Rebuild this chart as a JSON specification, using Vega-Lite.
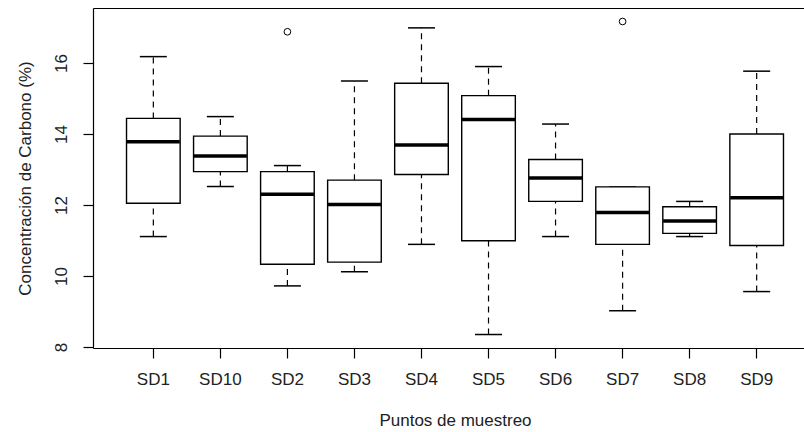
{
  "$schema": "https://vega.github.io/schema/vega-lite/v6.json",
  "width": 711,
  "height": 340,
  "autosize": {"type": "none"},
  "padding": {"left": 93, "top": 8, "right": 0, "bottom": 84},
  "background": "white",
  "config": {
    "view": {"stroke": null},
    "font": "Liberation Sans",
    "axis": {
      "domainColor": "#000",
      "tickColor": "#000",
      "labelColor": "#222",
      "titleColor": "#222",
      "labelFont": "Liberation Sans",
      "titleFont": "Liberation Sans",
      "labelFontSize": 17,
      "titleFontSize": 17,
      "titleFontWeight": "normal",
      "grid": false,
      "tickSize": 10,
      "domainWidth": 1.2,
      "tickWidth": 1.2
    }
  },
  "datasets": {
    "boxes": [
      {"site": "SD1", "lower": 11.11, "q1": 12.05, "median": 13.78, "q3": 14.44, "upper": 16.18},
      {"site": "SD10", "lower": 12.52, "q1": 12.94, "median": 13.38, "q3": 13.94, "upper": 14.49},
      {"site": "SD2", "lower": 9.72, "q1": 10.33, "median": 12.3, "q3": 12.94, "upper": 13.11},
      {"site": "SD3", "lower": 10.12, "q1": 10.39, "median": 12.01, "q3": 12.7, "upper": 15.49},
      {"site": "SD4", "lower": 10.89, "q1": 12.86, "median": 13.69, "q3": 15.43, "upper": 16.99},
      {"site": "SD5", "lower": 8.35, "q1": 10.99, "median": 14.41, "q3": 15.08, "upper": 15.9},
      {"site": "SD6", "lower": 11.11, "q1": 12.1, "median": 12.76, "q3": 13.28, "upper": 14.28},
      {"site": "SD7", "lower": 9.02, "q1": 10.89, "median": 11.79, "q3": 12.51, "upper": 12.51},
      {"site": "SD8", "lower": 11.11, "q1": 11.2, "median": 11.55, "q3": 11.95, "upper": 12.1},
      {"site": "SD9", "lower": 9.56, "q1": 10.86, "median": 12.2, "q3": 14.0, "upper": 15.77}
    ],
    "outliers": [
      {"site": "SD2", "value": 16.88},
      {"site": "SD7", "value": 17.17}
    ]
  },
  "resolve": {"axis": {"x": "independent"}},
  "layer": [
    {
      "data": {"name": "boxes"},
      "mark": {"type": "rule", "color": "#000", "strokeWidth": 1.2, "strokeDash": [6, 5]},
      "encoding": {
        "x": {"field": "site", "type": "nominal", "sort": null,
              "scale": {"type": "band", "domain": ["SD1","SD10","SD2","SD3","SD4","SD5","SD6","SD7","SD8","SD9"], "paddingInner": 0.2, "paddingOuter": 0.5, "range": [0, 724]},
              "axis": {"orient": "bottom", "labelAngle": 0, "labelPadding": 13, "title": "Puntos de muestreo", "titlePadding": 25, "domain": true}},
        "y": {"field": "lower", "type": "quantitative",
              "scale": {"domain": [7.97, 17.55], "nice": false, "zero": false},
              "axis": {"values": [8, 10, 12, 14, 16], "labelAngle": -90, "labelAlign": "center", "labelBaseline": "bottom", "labelPadding": 13, "title": "Concentración de Carbono (%)", "titlePadding": 18}},
        "y2": {"field": "q1"}
      }
    },
    {
      "data": {"name": "boxes"},
      "mark": {"type": "rule", "color": "#000", "strokeWidth": 1.2, "strokeDash": [6, 5]},
      "encoding": {
        "x": {"field": "site", "type": "nominal", "sort": null, "axis": null},
        "y": {"field": "q3", "type": "quantitative"},
        "y2": {"field": "upper"}
      }
    },
    {
      "data": {"name": "boxes"},
      "mark": {"type": "tick", "color": "#000", "size": 27, "thickness": 1.5, "opacity": 1},
      "encoding": {
        "x": {"field": "site", "type": "nominal", "sort": null, "axis": null},
        "y": {"field": "lower", "type": "quantitative"}
      }
    },
    {
      "data": {"name": "boxes"},
      "mark": {"type": "tick", "color": "#000", "size": 27, "thickness": 1.5, "opacity": 1},
      "encoding": {
        "x": {"field": "site", "type": "nominal", "sort": null, "axis": null},
        "y": {"field": "upper", "type": "quantitative"}
      }
    },
    {
      "data": {"name": "boxes"},
      "mark": {"type": "bar", "fill": "white", "stroke": "#000", "strokeWidth": 1.4},
      "encoding": {
        "x": {"field": "site", "type": "nominal", "sort": null, "axis": null},
        "y": {"field": "q1", "type": "quantitative"},
        "y2": {"field": "q3"}
      }
    },
    {
      "data": {"name": "boxes"},
      "mark": {"type": "tick", "color": "#000", "size": 53, "thickness": 3.5, "opacity": 1},
      "encoding": {
        "x": {"field": "site", "type": "nominal", "sort": null, "axis": null},
        "y": {"field": "median", "type": "quantitative"}
      }
    },
    {
      "data": {"name": "outliers"},
      "mark": {"type": "point", "shape": "circle", "filled": false, "size": 45, "stroke": "#000", "strokeWidth": 1, "opacity": 1},
      "encoding": {
        "x": {"field": "site", "type": "nominal", "sort": null,
              "axis": {"orient": "top", "labels": false, "ticks": false, "title": null, "domain": true}},
        "y": {"field": "value", "type": "quantitative"}
      }
    }
  ]
}
